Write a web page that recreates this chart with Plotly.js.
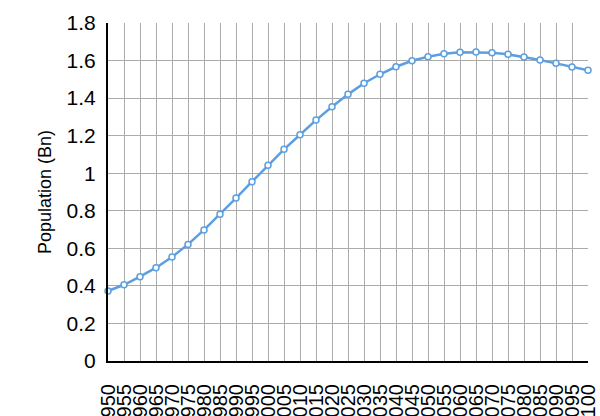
<!DOCTYPE html>
<html>
<head>
<meta charset="utf-8">
<script src="https://cdn.plot.ly/plotly-3.0.1.min.js"></script>
<style>
html, body { margin: 0; padding: 0; background: #ffffff; overflow: hidden; }
#chart { width: 600px; height: 440px; }
</style>
</head>
<body>
<div id="chart"></div>
<script>
const years = [1950, 1955, 1960, 1965, 1970, 1975, 1980, 1985, 1990, 1995,
               2000, 2005, 2010, 2015, 2020, 2025, 2030, 2035, 2040, 2045,
               2050, 2055, 2060, 2065, 2070, 2075, 2080, 2085, 2090, 2095, 2100];
const population = [0.373, 0.406, 0.449, 0.497, 0.554, 0.621, 0.698, 0.781, 0.868, 0.955,
                    1.042, 1.127, 1.205, 1.283, 1.354, 1.420, 1.479, 1.527, 1.567, 1.599,
                    1.620, 1.636, 1.644, 1.645, 1.642, 1.633, 1.619, 1.603, 1.585, 1.566, 1.548];
const yTicks = [0, 0.2, 0.4, 0.6, 0.8, 1, 1.2, 1.4, 1.6, 1.8];
const yTickText = ["0", "0.2", "0.4", "0.6", "0.8", "1", "1.2", "1.4", "1.6", "1.8"];
const yTitle = "Population (Bn)";

const trace = {
  x: years,
  y: population,
  type: 'scatter',
  mode: 'lines+markers',
  line: { color: '#5b9fe3', width: 2.5 },
  marker: { symbol: 'circle', size: 6, color: '#ffffff', line: { color: '#5b9fe3', width: 1.5 } },
  cliponaxis: false,
  hoverinfo: 'skip'
};

const layout = {
  width: 600,
  height: 440,
  margin: { l: 108, r: 12, t: 23, b: 79, pad: 0 },
  paper_bgcolor: '#ffffff',
  plot_bgcolor: '#ffffff',
  showlegend: false,
  font: { family: 'Liberation Sans, Arial, sans-serif', color: '#000000', size: 20 },
  xaxis: {
    type: 'linear',
    range: [1950, 2100],
    tickmode: 'array',
    tickvals: years,
    ticktext: years.map(String),
    tickangle: -90,
    ticks: '',
    ticklabelstandoff: 13,
    showgrid: true,
    gridcolor: '#ababab',
    gridwidth: 1,
    showline: true,
    linecolor: '#000000',
    linewidth: 2,
    zeroline: false,
    tickfont: { size: 20 },
    automargin: false
  },
  yaxis: {
    range: [0, 1.8],
    tickmode: 'array',
    tickvals: yTicks,
    ticktext: yTickText,
    ticks: '',
    ticklabelstandoff: 6,
    showgrid: true,
    gridcolor: '#ababab',
    gridwidth: 1,
    showline: true,
    linecolor: '#000000',
    linewidth: 2,
    zeroline: false,
    tickfont: { size: 21 },
    title: { text: yTitle, font: { size: 18 }, standoff: 10 },
    automargin: false
  }
};

Plotly.newPlot('chart', [trace], layout, { displayModeBar: false, staticPlot: true });
</script>
</body>
</html>
